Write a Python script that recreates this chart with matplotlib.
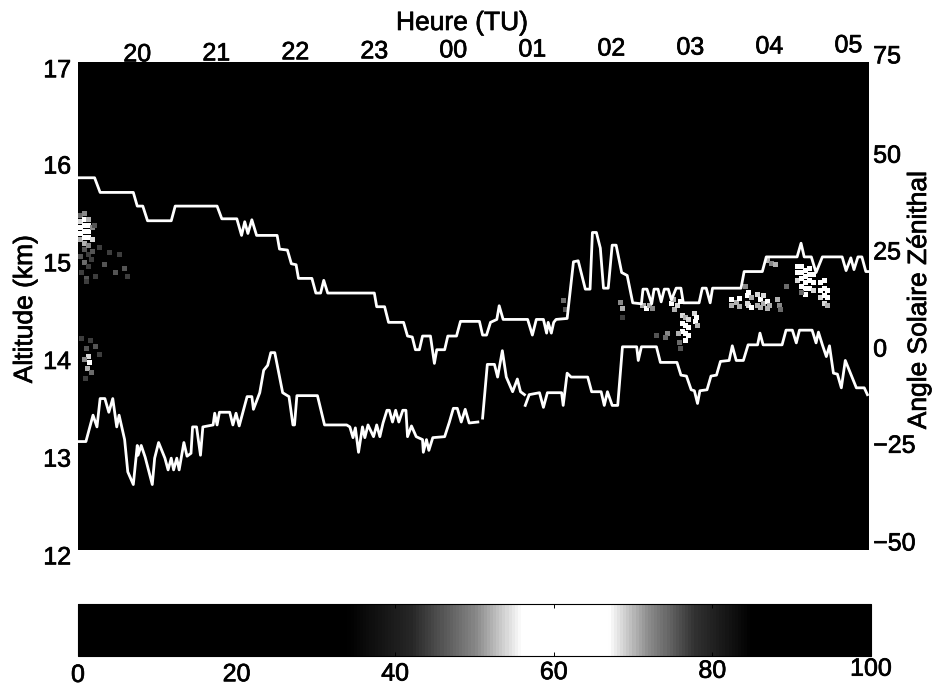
import matplotlib
matplotlib.use('Agg')
import matplotlib.pyplot as plt
import matplotlib.transforms as mtrans
import matplotlib.patheffects as pe
from matplotlib.colors import LinearSegmentedColormap, Normalize
from matplotlib.cm import ScalarMappable
import numpy as np

plt.rcParams['font.family'] = ['Liberation Sans', 'DejaVu Sans']

# upper trace, hours (24+ = next day) and km
upper_h = [19.25,19.46,19.53,19.95,20.00,20.07,20.13,20.43,20.48,21.01,21.07,21.26,21.32,21.36,21.40,21.45,21.51,
           21.77,21.80,21.90,21.95,22.01,22.04,22.21,22.26,22.32,22.36,22.41,23.00,23.03,23.13,23.18,23.37,23.42,
           23.48,23.52,23.57,23.61,23.71,23.76,23.79,23.89,23.93,24.04,24.09,24.33,24.37,24.42,24.47,24.55,24.58,
           24.63,24.94,25.00,25.05,25.14,25.18,25.20,25.24,25.27,25.30,25.44,25.52,25.58,25.67,25.73,25.76,25.81,
           25.86,25.90,25.96,26.01,26.06,26.13,26.20,26.27,26.38,26.40,26.45,26.51,26.54,26.59,26.63,26.67,26.72,
           26.76,26.82,26.88,26.91,27.11,27.15,27.20,27.25,27.28,27.64,27.68,27.91,27.96,28.35,28.40,28.44,28.53,
           28.59,28.67,28.92,28.97,29.03,29.07,29.12,29.17,29.22,29.26]
upper_alt = [15.81,15.81,15.66,15.66,15.52,15.52,15.37,15.37,15.52,15.52,15.39,15.39,15.22,15.36,15.24,15.38,15.22,
             15.22,15.08,15.07,14.93,14.92,14.78,14.78,14.63,14.63,14.76,14.63,14.63,14.49,14.49,14.33,14.33,14.19,
             14.18,14.05,14.05,14.19,14.19,13.91,14.05,14.05,14.19,14.19,14.34,14.34,14.20,14.20,14.33,14.36,14.50,
             14.36,14.36,14.20,14.36,14.36,14.22,14.33,14.22,14.33,14.36,14.37,14.95,14.96,14.67,14.67,15.25,15.25,
             15.09,14.68,14.68,15.12,15.12,14.84,14.81,14.53,14.52,14.67,14.67,14.52,14.67,14.67,14.54,14.67,14.67,
             14.56,14.68,14.68,14.53,14.53,14.68,14.68,14.53,14.68,14.68,14.85,14.85,15.00,15.00,15.14,15.00,15.00,
             14.84,15.00,15.00,14.86,14.99,14.87,15.00,15.00,14.85,14.85]

# lower trace, nan = breaks in the line
lower_h = [19.26,19.35,19.40,19.44,19.49,19.53,19.59,19.64,19.69,19.74,19.77,19.84,19.88,19.95,20.00,20.01,20.05,
           20.10,20.19,20.22,20.27,20.35,20.39,20.43,20.46,20.50,20.53,20.59,20.63,20.68,20.70,20.75,20.80,20.83,
           20.96,20.98,21.01,21.04,21.17,21.21,21.25,21.29,21.39,21.45,21.47,21.55,21.60,21.65,21.69,21.74,21.84,
           21.92,21.97,21.99,22.02,22.28,22.37,22.65,22.69,22.73,22.76,22.80,22.85,22.88,22.92,22.99,23.03,23.07,
           23.11,23.16,23.19,23.23,23.27,23.31,23.36,23.40,23.42,23.47,23.53,23.61,23.62,23.66,23.69,23.74,23.89,
           23.95,24.00,24.05,24.10,24.15,24.20,24.31,24.34,24.37,24.43,24.52,24.56,24.62,24.67,24.75,24.81,24.85,
           24.90,24.905,24.91,24.96,25.09,25.14,25.19,25.37,25.39,25.44,25.49,25.70,25.75,25.87,25.91,25.95,26.01,
           26.08,26.14,26.32,26.34,26.38,26.57,26.62,26.83,26.88,26.95,27.01,27.05,27.09,27.12,27.21,27.26,27.33,
           27.38,27.49,27.53,27.58,27.67,27.73,27.85,27.88,27.92,28.16,28.21,28.29,28.34,28.38,28.54,28.59,28.62,
           28.67,28.72,28.76,28.81,28.86,28.91,28.96,29.03,29.10,29.20,29.24]
lower_alt = [13.11,13.11,13.26,13.38,13.26,13.55,13.55,13.41,13.55,13.26,13.38,13.13,12.80,12.67,13.07,12.97,13.07,
             12.95,12.67,12.94,13.10,12.94,12.82,12.94,12.82,12.94,12.82,13.10,12.96,12.99,13.26,13.26,12.97,13.26,
             13.28,13.40,13.28,13.41,13.41,13.28,13.40,13.27,13.57,13.57,13.44,13.61,13.84,13.89,14.02,14.02,13.61,
             13.57,13.28,13.28,13.58,13.58,13.28,13.28,13.26,13.15,13.25,13.00,13.26,13.15,13.28,13.16,13.28,13.16,
             13.30,13.43,13.43,13.31,13.43,13.31,13.43,13.43,13.16,13.27,13.16,13.13,13.00,13.13,13.02,13.15,13.16,
             13.31,13.45,13.45,13.31,13.44,13.30,13.31,np.nan,13.35,13.90,13.90,13.77,14.04,13.77,13.62,13.75,13.62,
             13.59,np.nan,13.48,13.59,13.61,13.46,13.61,13.61,13.48,13.81,13.77,13.77,13.62,13.62,13.48,13.62,13.48,
             13.48,14.08,14.08,13.94,14.08,14.08,13.92,13.92,13.79,13.78,13.64,13.63,13.50,13.63,13.64,13.78,13.79,
             13.93,13.94,14.09,13.94,13.94,14.10,14.10,14.22,14.10,14.10,14.25,14.25,14.12,14.25,14.25,14.12,14.23,
             14.10,13.98,14.09,13.81,13.80,13.66,13.94,13.80,13.66,13.66,13.59]

# backscatter speckle, hour / km / percent
heat_h = [19.28,19.28,19.28,19.28,19.28,19.33,19.33,19.33,19.33,19.33,19.33,19.33,19.38,19.38,19.38,19.38,19.38,19.38,
          19.43,19.43,19.43,19.28,19.33,19.38,19.46,19.30,19.36,19.42,19.52,19.58,19.65,19.72,19.78,19.84,19.88,19.36,19.47,
          19.30,19.36,19.41,19.47,19.52,19.38,19.33,19.40,19.37,19.42,19.35,
          25.40,25.42,26.12,26.14,26.14,26.40,26.44,26.48,26.52,26.76,26.80,26.84,26.78,26.87,26.90,26.90,26.90,26.94,26.94,26.94,
          26.94,26.98,26.98,26.98,26.86,26.88,26.85,27.05,27.08,27.07,27.09,26.71,26.68,26.57,27.52,27.52,27.58,27.62,27.62,
          27.70,27.72,27.72,27.74,27.74,27.77,27.77,27.85,27.85,27.89,27.89,27.93,27.93,27.97,27.97,28.00,28.10,28.13,28.14,28.22,
          28.36,28.36,28.36,28.41,28.41,28.41,28.41,28.46,28.46,28.46,28.46,28.46,28.51,28.51,28.51,28.51,28.56,28.56,28.56,28.40,
          28.65,28.65,28.65,28.70,28.70,28.70,28.70,28.74,28.74,28.74,27.98,28.03,28.08]
heat_alt = [15.42,15.36,15.30,15.24,15.18,15.44,15.38,15.32,15.26,15.20,15.14,15.08,15.38,15.32,15.26,15.20,15.12,15.02,
            15.30,15.18,15.06,15.00,14.94,14.90,15.32,14.84,14.78,14.97,15.10,14.92,15.05,14.84,15.02,14.88,14.80,14.75,14.80,
            14.16,14.06,14.14,14.08,14.00,13.98,13.95,13.92,13.86,13.82,13.76,
            14.55,14.46,14.53,14.47,14.38,14.50,14.47,14.50,14.47,14.52,14.46,14.50,14.56,14.54,14.40,14.32,14.24,14.38,14.30,14.22,
            14.14,14.36,14.28,14.20,14.12,14.06,14.22,14.42,14.38,14.34,14.30,14.22,14.18,14.20,14.56,14.50,14.53,14.57,14.49,
            14.70,14.60,14.52,14.64,14.50,14.58,14.48,14.62,14.50,14.56,14.48,14.60,14.52,14.54,14.47,14.50,14.56,14.50,14.46,14.70,
            14.90,14.84,14.76,14.90,14.84,14.78,14.70,14.86,14.80,14.74,14.68,14.62,14.88,14.82,14.76,14.68,14.82,14.74,14.66,14.64,
            14.74,14.66,14.58,14.76,14.68,14.60,14.52,14.66,14.58,14.50,14.96,14.93,14.92]
heat_val = [48,54,60,60,52,50,60,60,60,58,52,46,52,60,60,56,50,44,
            50,54,46,46,48,44,46,44,46,44,44,46,44,46,44,46,44,44,44,
            44,46,44,46,44,54,50,56,52,48,44,
            48,46,50,52,44,52,56,52,50,56,52,54,52,58,54,60,60,52,60,60,
            56,54,60,58,48,46,52,54,58,58,52,50,48,46,56,52,52,56,52,
            50,56,54,58,54,52,56,54,52,56,52,54,52,56,52,52,52,50,48,48,
            58,60,54,60,60,60,58,60,60,60,60,56,60,60,60,58,60,60,54,48,
            58,60,54,60,60,60,54,60,60,52,52,50,52]

hour_ticks = [20,21,22,23,24,25,26,27,28,29]
hour_labels = ['20','21','22','23','00','01','02','03','04','05']
alt_ticks = [12,13,14,15,16,17]
angle_ticks = [-50,-25,0,25,50,75]
scale_ticks = [0,20,40,60,80,100]

# grey scale: black, white around 60, black again
gcmap = LinearSegmentedColormap.from_list('backscatter', [
    (0.00,'#000000'),(0.34,'#000000'),(0.42,'#262626'),(0.50,'#858585'),(0.56,'#ffffff'),
    (0.67,'#ffffff'),(0.72,'#8c8c8c'),(0.78,'#303030'),(0.85,'#000000'),(1.00,'#000000')])
norm = Normalize(0,100)

W, H = 935.0, 690.0
fig = plt.figure(figsize=(9.35,6.9), dpi=100)
ax = fig.add_axes([78/W, 1-550/H, 791/W, 488.5/H])
ax.set_facecolor('black')
ax.scatter(heat_h, heat_alt, c=heat_val, cmap=gcmap, norm=norm, marker='s', s=13, linewidths=0)
ax.plot(upper_h, upper_alt, color='white', lw=2.0, solid_joinstyle='round')
ax.plot(lower_h, lower_alt, color='white', lw=2.0, solid_joinstyle='round')
ax.set_xlim(19.25,29.26)
ax.set_ylim(12,17)
ax.xaxis.tick_top()
ax.set_xticks(hour_ticks)
ax.set_xticklabels(hour_labels)
ax.set_yticks(alt_ticks)
ax.tick_params(axis='y', length=0, labelsize=18, pad=5)
ax.tick_params(axis='x', length=0, labelsize=18, pad=0)

ax2 = ax.twinx()
ax2.set_ylim(-50,75)
ax2.set_yticks(angle_ticks)
ax2.tick_params(length=0, labelsize=18, pad=3)
for a in (ax, ax2):
    for s in a.spines.values():
        s.set_visible(False)

# the scan is a little tilted, shift labels to follow it
def nudge(labels, dy):
    for lab, d in zip(labels, dy):
        lab.set_transform(lab.get_transform() + mtrans.ScaledTranslation(0, d/72.0, fig.dpi_scale_trans))

nudge(ax.get_yticklabels(), [-3.5,-3.5,-3.5,-3.5,-3.5,-4.5])
nudge(ax2.get_yticklabels(), [6.5,6.5,5.4,5,4.3,5.5])
nudge(ax.get_xticklabels(), [-3.5,-2.8,-2,-1.3,-0.6,0,0.7,1.4,2.2,3])

title = fig.text(462/W, 1-23/H, 'Heure (TU)', fontsize=19, ha='center', va='center')
yl = fig.text(25/W, 1-309/H, 'Altitude (km)', fontsize=19, ha='center', va='center', rotation=90)
yr = fig.text(919/W, 1-300/H, 'Angle Solaire Zénithal', fontsize=19, ha='center', va='center', rotation=90)

cax = fig.add_axes([78/W, 1-656/H, 793/W, 52/H])
cb = fig.colorbar(ScalarMappable(norm=norm, cmap=gcmap), cax=cax, orientation='horizontal')
cb.set_ticks(scale_ticks)
cb.outline.set_linewidth(0.8)
cax.tick_params(direction='in', length=3, width=0.7, labelsize=18, pad=4, bottom=True, top=True)
nudge(cax.get_xticklabels(), [-1,-0.5,0,1,2,3.5])

# scanned print looks heavier than plain type
heavy = [pe.withStroke(linewidth=0.5, foreground='black')]
for t in [title, yl, yr] + ax.get_xticklabels() + ax.get_yticklabels() + ax2.get_yticklabels() + cax.get_xticklabels():
    t.set_path_effects(heavy)

fig.savefig('out.png', dpi=100)
